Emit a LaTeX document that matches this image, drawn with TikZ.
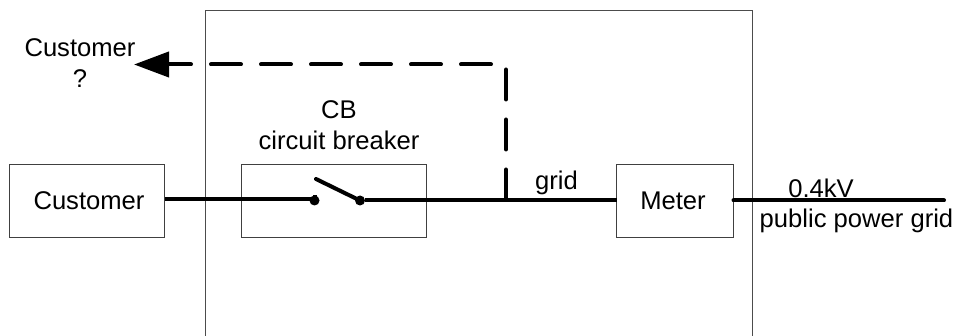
\documentclass[tikz,border=0pt]{standalone}
\usepackage{fontspec}
\setmainfont{Liberation Sans}
\usetikzlibrary{arrows.meta}
\tikzset{
  x=1pt,y=-1pt,
  boxnode/.style={draw=black!75,line width=0.9pt,minimum height=73pt,inner sep=0pt,outer sep=0pt,anchor=north west},
  wire/.style={line width=4pt,black},
  dashwire/.style={wire,line cap=round,dash pattern=on 30pt off 20pt},
  label/.style={font=\fontsize{25.6pt}{28pt}\selectfont,anchor=base,inner sep=0pt,text=black},
  contact/.style={circle,fill=black,minimum size=10pt,inner sep=0pt}
}
\begin{document}
\begin{tikzpicture}
\useasboundingbox (0,0) rectangle (955,336);
\fill[white] (0,0) rectangle (955,336);
\draw[draw=black!70,line width=0.9pt] (205.5,336) -- (205.5,10) -- (752,10) -- (752,336);
\node[boxnode,minimum width=155pt] (cust) at (9.5,164.5) {};
\node[boxnode,minimum width=185pt] (cb) at (241.5,164.5) {};
\node[boxnode,minimum width=117pt] (meter) at (616.5,164.5) {};
\node[contact] (c1) at (314.5,200.5) {};
\node[contact] (c2) at (360,200.5) {};
\coordinate (blade) at (316,179);
\coordinate (junction) at (506,200.5);
\coordinate (corner) at (506,64.5);
\coordinate (tip) at (134,64.5);
\coordinate (custout) at (cust.east |- 0,199.5);
\coordinate (gridend) at (944,200.5);
\draw[wire] (custout) -- (c1 |- custout) -- (c1);
\draw[wire,line cap=round] (blade) -- (c2);
\draw[wire] (c2) -- (meter.west |- c2);
\draw[wire,line cap=round] (meter.east |- c2) -- (gridend);
\draw[dashwire,dash phase=-1pt,-{Triangle[length=35pt,width=25pt]}] (junction) -- (corner) -- (tip);
\node[label] (q1) at (80,57) {Customer};
\node[label] (q2) at (80,88) {?};
\node[label] (l1) at (339,119) {CB};
\node[label] (l2) at (339,150) {circuit breaker};
\node[label] (l3) at (89,209.5) {Customer};
\node[label] (l4) at (673,210) {Meter};
\node[label] (l5) at (556.5,189.5) {grid};
\node[label] (l6) at (821,197.5) {0.4kV};
\node[label] (l7) at (856.5,227.5) {public power grid};
\end{tikzpicture}
\end{document}
